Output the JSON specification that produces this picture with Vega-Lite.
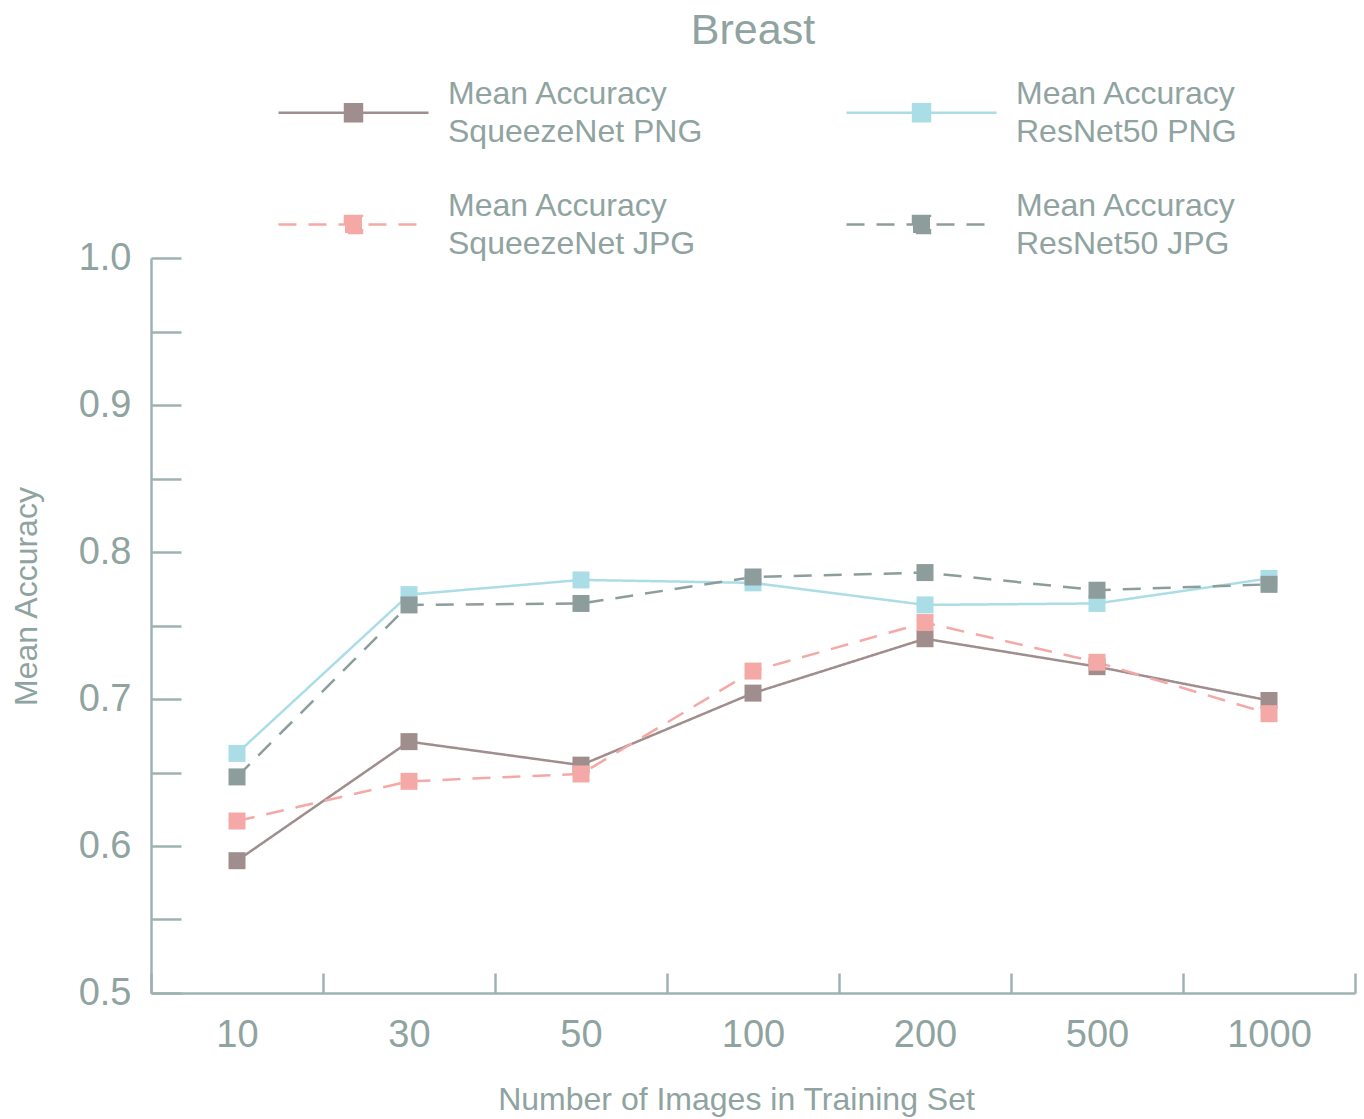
{
  "$schema": "https://vega.github.io/schema/vega-lite/v6.json",
  "width": 1204,
  "height": 735,
  "autosize": {"type": "none"},
  "padding": {"left": 151, "top": 258, "right": 9, "bottom": 126},
  "background": "white",
  "title": {
    "text": "Breast",
    "fontSize": 43,
    "font": "Liberation Sans",
    "fontWeight": "normal",
    "color": "#8fa3a1",
    "anchor": "middle",
    "offset": -17
  },
  "config": {
    "view": {"stroke": null},
    "font": "Liberation Sans",
    "style": {"guide-label": {"lineHeight": 38}},
    "axis": {
      "grid": false,
      "domainColor": "#9fb2b1",
      "domainWidth": 2.5,
      "tickColor": "#9fb2b1",
      "tickWidth": 2.5,
      "labelColor": "#8fa3a1",
      "titleColor": "#8fa3a1",
      "labelFont": "Liberation Sans",
      "titleFont": "Liberation Sans",
      "titleFontWeight": "normal"
    }
  },
  "data": {
    "values": [
      {"series": "Mean Accuracy|SqueezeNet PNG", "n": 10, "acc": 0.590},
      {"series": "Mean Accuracy|SqueezeNet PNG", "n": 30, "acc": 0.671},
      {"series": "Mean Accuracy|SqueezeNet PNG", "n": 50, "acc": 0.655},
      {"series": "Mean Accuracy|SqueezeNet PNG", "n": 100, "acc": 0.704},
      {"series": "Mean Accuracy|SqueezeNet PNG", "n": 200, "acc": 0.741},
      {"series": "Mean Accuracy|SqueezeNet PNG", "n": 500, "acc": 0.722},
      {"series": "Mean Accuracy|SqueezeNet PNG", "n": 1000, "acc": 0.699},
      {"series": "Mean Accuracy|ResNet50 PNG", "n": 10, "acc": 0.663},
      {"series": "Mean Accuracy|ResNet50 PNG", "n": 30, "acc": 0.771},
      {"series": "Mean Accuracy|ResNet50 PNG", "n": 50, "acc": 0.781},
      {"series": "Mean Accuracy|ResNet50 PNG", "n": 100, "acc": 0.779},
      {"series": "Mean Accuracy|ResNet50 PNG", "n": 200, "acc": 0.764},
      {"series": "Mean Accuracy|ResNet50 PNG", "n": 500, "acc": 0.765},
      {"series": "Mean Accuracy|ResNet50 PNG", "n": 1000, "acc": 0.782},
      {"series": "Mean Accuracy|SqueezeNet JPG", "n": 10, "acc": 0.617},
      {"series": "Mean Accuracy|SqueezeNet JPG", "n": 30, "acc": 0.644},
      {"series": "Mean Accuracy|SqueezeNet JPG", "n": 50, "acc": 0.649},
      {"series": "Mean Accuracy|SqueezeNet JPG", "n": 100, "acc": 0.719},
      {"series": "Mean Accuracy|SqueezeNet JPG", "n": 200, "acc": 0.752},
      {"series": "Mean Accuracy|SqueezeNet JPG", "n": 500, "acc": 0.725},
      {"series": "Mean Accuracy|SqueezeNet JPG", "n": 1000, "acc": 0.690},
      {"series": "Mean Accuracy|ResNet50 JPG", "n": 10, "acc": 0.647},
      {"series": "Mean Accuracy|ResNet50 JPG", "n": 30, "acc": 0.764},
      {"series": "Mean Accuracy|ResNet50 JPG", "n": 50, "acc": 0.765},
      {"series": "Mean Accuracy|ResNet50 JPG", "n": 100, "acc": 0.783},
      {"series": "Mean Accuracy|ResNet50 JPG", "n": 200, "acc": 0.786},
      {"series": "Mean Accuracy|ResNet50 JPG", "n": 500, "acc": 0.774},
      {"series": "Mean Accuracy|ResNet50 JPG", "n": 1000, "acc": 0.778}
    ]
  },
  "encoding": {
    "x": {
      "field": "n",
      "type": "ordinal",
      "sort": [10, 30, 50, 100, 200, 500, 1000],
      "scale": {"type": "band", "paddingInner": 0, "paddingOuter": 0},
      "axis": {
        "title": "Number of Images in Training Set",
        "titleFontSize": 32,
        "titlePadding": 30,
        "titleX": 585,
        "labelFontSize": 38,
        "labelAngle": 0,
        "labelPadding": 43,
        "tickSize": -20,
        "tickBand": "extent"
      }
    },
    "y": {
      "field": "acc",
      "type": "quantitative",
      "scale": {"domain": [0.5, 1.0], "nice": false, "zero": false},
      "axis": {
        "title": "Mean Accuracy",
        "titleFontSize": 32,
        "titlePadding": 35,
        "titleY": 338,
        "labelFontSize": 38,
        "labelPadding": 50,
        "tickSize": -30,
        "values": [0.5, 0.55, 0.6, 0.65, 0.7, 0.75, 0.8, 0.85, 0.9, 0.95, 1.0],
        "labelExpr": "round(datum.value * 20) % 2 == 0 ? format(datum.value, '.1f') : ''"
      }
    },
    "color": {
      "field": "series",
      "type": "nominal",
      "scale": {
        "domain": ["Mean Accuracy|SqueezeNet PNG", "Mean Accuracy|ResNet50 PNG", "Mean Accuracy|SqueezeNet JPG", "Mean Accuracy|ResNet50 JPG"],
        "range": ["#a08d8d", "#aadde6", "#f5a9a6", "#8d9d9b"]
      }
    }
  },
  "layer": [
    {
      "mark": {"type": "line", "strokeWidth": 2.5},
      "encoding": {
        "color": {
          "field": "series",
          "type": "nominal",
          "legend": {
            "orient": "none",
            "legendX": 126,
            "legendY": -222,
            "columns": 2,
            "direction": "horizontal",
            "title": null,
            "padding": 0,
            "symbolType": "M-1,0H1M-0.113,-0.113H0.113V0.113H-0.113Z",
            "symbolSize": 22500,
            "symbolStrokeWidth": 2.5,
            "labelFontSize": 32,
            "labelColor": "#8fa3a1",
            "labelFont": "Liberation Sans",
            "labelOffset": 18,
            "labelLimit": 0,
            "columnPadding": 138,
            "rowPadding": -36,
            "labelExpr": "split(datum.label, '|')",
            "encoding": {
              "labels": {"lineHeight": {"value": 38}, "dy": {"value": -19}}
            }
          }
        },
        "strokeDash": {
          "field": "series",
          "type": "nominal",
          "scale": {
            "domain": ["Mean Accuracy|SqueezeNet PNG", "Mean Accuracy|ResNet50 PNG", "Mean Accuracy|SqueezeNet JPG", "Mean Accuracy|ResNet50 JPG"],
            "range": [[1, 0], [1, 0], [18, 12], [18, 12]]
          }
        }
      }
    },
    {
      "mark": {"type": "point", "shape": "square", "filled": true, "size": 289, "opacity": 1},
      "encoding": {
        "color": {"field": "series", "type": "nominal", "legend": null}
      }
    }
  ]
}
